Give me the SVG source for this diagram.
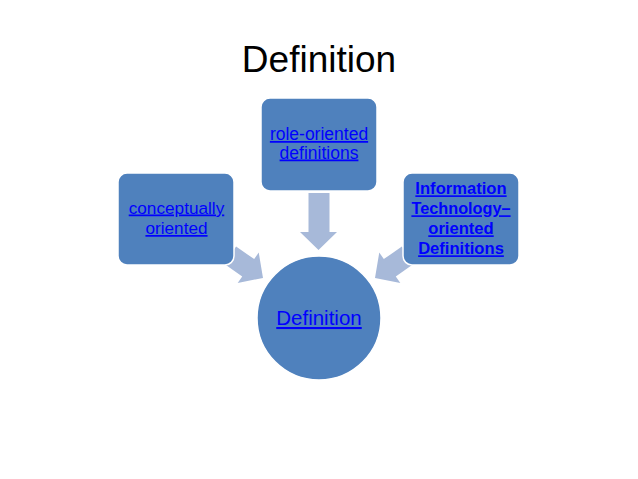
<svg xmlns="http://www.w3.org/2000/svg" width="638" height="479" viewBox="0 0 638 479">
  <defs>
    <style>
      .box { fill: #4F81BD; stroke: #FFFFFF; stroke-width: 1.5; }
      .arrow { fill: #A7B9D9; }
      .lbl { font-family: "Liberation Sans", Arial, sans-serif; fill: #0000FF; text-anchor: middle; text-decoration: underline; }
      .title { font-family: "Liberation Sans", Arial, sans-serif; fill: #000000; text-anchor: middle; font-size: 37px; }
    </style>
    <polygon id="arrowShape" points="-40,-10.5 -18,-10.5 -18,-18.5 0,0 -18,18.5 -18,10.5 -40,10.5"/>
  </defs>
  <rect width="638" height="479" fill="#FFFFFF"/>
  <text class="title" x="319" y="72">Definition</text>

  <g id="connectors">
    <polygon class="arrow" points="308.5,193 329.5,193 329.5,232 337,232 318.5,250 300,232 308.5,232"/>
    <use href="#arrowShape" class="arrow" transform="translate(263,278) rotate(34.7)"/>
    <use href="#arrowShape" class="arrow" transform="translate(375,278) rotate(145.3)"/>
  </g>

  <g id="node-role">
    <rect class="box" x="261" y="98" width="116" height="93" rx="9"/>
    <text class="lbl" font-size="17.5" x="319" y="140">role-oriented</text>
    <text class="lbl" font-size="17.5" x="319" y="158.5">definitions</text>
  </g>

  <g id="node-conceptual">
    <rect class="box" x="118" y="173" width="116" height="92" rx="9"/>
    <text class="lbl" font-size="17.2" x="176.5" y="213.5">conceptually</text>
    <text class="lbl" font-size="17.2" x="176.5" y="234">oriented</text>
  </g>

  <g id="node-it">
    <rect class="box" x="403" y="173" width="116" height="92" rx="9"/>
    <text class="lbl" font-size="16.6" font-weight="bold" x="461" y="194.3">Information</text>
    <text class="lbl" font-size="16.3" font-weight="bold" x="461" y="214.3">Technology–</text>
    <text class="lbl" font-size="16.6" font-weight="bold" x="461" y="234.3">oriented</text>
    <text class="lbl" font-size="16.6" font-weight="bold" x="461" y="254.3">Definitions</text>
  </g>

  <g id="node-definition">
    <circle class="box" cx="319" cy="318" r="62"/>
    <text class="lbl" font-size="20.5" x="319" y="325">Definition</text>
  </g>
</svg>
